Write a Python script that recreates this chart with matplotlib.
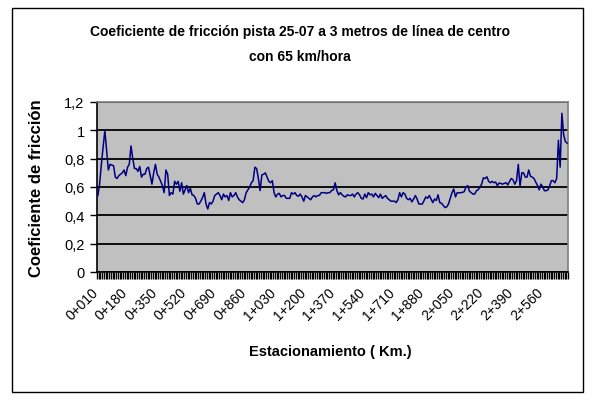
import matplotlib
matplotlib.use("Agg")
import matplotlib.pyplot as plt
from matplotlib.patches import Rectangle
from matplotlib.ticker import FixedLocator, FixedFormatter
from matplotlib.transforms import ScaledTranslation
import matplotlib.font_manager as fm

# ---------------- data ----------------
stations_m = list(range(10, 2710, 10))   # 0+010 ... 2+700, every 10 m
friction = [
    0.54, 0.62, 0.76, 0.88, 1.00, 0.86, 0.72, 0.76, 0.755, 0.75,
    0.67, 0.66, 0.68, 0.69, 0.70, 0.72, 0.68, 0.74, 0.76, 0.89,
    0.80, 0.73, 0.73, 0.71, 0.745, 0.67, 0.69, 0.69, 0.73, 0.74,
    0.68, 0.62, 0.70, 0.76, 0.69, 0.67, 0.64, 0.61, 0.56, 0.72,
    0.69, 0.54, 0.56, 0.55, 0.64, 0.62, 0.64, 0.57, 0.63, 0.55,
    0.58, 0.61, 0.56, 0.59, 0.545, 0.54, 0.52, 0.48, 0.48, 0.50,
    0.525, 0.56, 0.48, 0.445, 0.49, 0.48, 0.50, 0.54, 0.55, 0.56,
    0.54, 0.51, 0.55, 0.53, 0.54, 0.505, 0.56, 0.53, 0.54, 0.56,
    0.53, 0.51, 0.50, 0.49, 0.51, 0.56, 0.58, 0.60, 0.63, 0.645,
    0.74, 0.73, 0.66, 0.575, 0.685, 0.69, 0.70, 0.67, 0.64, 0.63,
    0.645, 0.56, 0.53, 0.55, 0.555, 0.53, 0.54, 0.54, 0.52, 0.52,
    0.52, 0.56, 0.55, 0.56, 0.54, 0.535, 0.55, 0.53, 0.50, 0.54,
    0.53, 0.52, 0.51, 0.53, 0.54, 0.53, 0.54, 0.54, 0.56, 0.56,
    0.56, 0.555, 0.56, 0.56, 0.575, 0.58, 0.63, 0.575, 0.545, 0.56,
    0.545, 0.535, 0.53, 0.545, 0.54, 0.54, 0.55, 0.53, 0.55, 0.56,
    0.545, 0.52, 0.515, 0.55, 0.525, 0.56, 0.545, 0.55, 0.53, 0.555,
    0.54, 0.525, 0.55, 0.52, 0.53, 0.54, 0.52, 0.51, 0.50, 0.50,
    0.50, 0.49, 0.51, 0.56, 0.53, 0.56, 0.55, 0.52, 0.51, 0.52,
    0.495, 0.515, 0.54, 0.515, 0.48, 0.48, 0.48, 0.505, 0.53, 0.52,
    0.54, 0.515, 0.49, 0.515, 0.505, 0.545, 0.49, 0.485, 0.47, 0.455,
    0.46, 0.48, 0.52, 0.56, 0.586, 0.53, 0.56, 0.558, 0.56, 0.562,
    0.567, 0.60, 0.61, 0.57, 0.56, 0.55, 0.55, 0.574, 0.58, 0.60,
    0.62, 0.665, 0.66, 0.672, 0.64, 0.63, 0.64, 0.63, 0.635, 0.61,
    0.628, 0.625, 0.62, 0.626, 0.63, 0.615, 0.64, 0.66, 0.65, 0.62,
    0.645, 0.76, 0.606, 0.70, 0.70, 0.67, 0.67, 0.72, 0.675, 0.67,
    0.66, 0.635, 0.612, 0.58, 0.62, 0.60, 0.574, 0.574, 0.58, 0.61,
    0.645, 0.645, 0.63, 0.66, 0.93, 0.74, 1.12, 0.97, 0.92, 0.91,
]
label_step = 17
y_ticks = [0, 0.2, 0.4, 0.6, 0.8, 1.0, 1.2]
y_tick_labels = ["0", "0,2", "0,4", "0,6", "0,8", "1", "1,2"]
title_lines = ["Coeficiente de fricción pista 25-07 a 3 metros de línea de centro",
               "con 65 km/hora"]
x_title = "Estacionamiento ( Km.)"
y_title = "Coeficiente de fricción"

categories = [f"{m // 1000}+{m % 1000:03d}" for m in stations_m]

# ---------------- fonts ----------------
names = {f.name for f in fm.fontManager.ttflist}
narrow = "Liberation Sans Narrow" if "Liberation Sans Narrow" in names else "Liberation Sans"
plt.rcParams["font.family"] = ["Liberation Sans", "DejaVu Sans"]

W, H = 592, 402
fig = plt.figure(figsize=(W / 100, H / 100), dpi=100)
fig.patch.set_facecolor("white")

# outer chart border
fig.add_artist(Rectangle((12 / W, 1 - 393 / H), (583 - 12) / W, (393 - 9) / H,
                         transform=fig.transFigure, fill=False, edgecolor="black", lw=1.0))

left, right, top, bottom = 97, 568, 103, 273
ax = fig.add_axes([left / W, 1 - bottom / H, (right - left) / W, (bottom - top) / H])
ax.set_facecolor("#c0c0c0")

n = len(friction)
xs = list(range(n))
ax.plot(xs, friction, color="#000080", lw=1.1, zorder=3)

ax.set_xlim(-0.5, n - 0.5)
ax.set_ylim(0, 1.2)

# gridlines
ax.set_yticks(y_ticks)
ax.set_yticklabels(y_tick_labels, fontsize=10.5)
ax.yaxis.grid(True, color="black", lw=1.3)
for gl in ax.yaxis.get_gridlines():
    gl.set_zorder(2)
ax.tick_params(axis="y", direction="out", length=5, width=1, pad=4, color="black")

# x ticks: dense marks between categories, labels every 17 categories
major_pos = list(range(0, n, label_step))
ax.xaxis.set_major_locator(FixedLocator(major_pos))
ax.xaxis.set_major_formatter(FixedFormatter([categories[i] for i in major_pos]))
ax.xaxis.set_minor_locator(FixedLocator([i - 0.5 for i in range(n + 1)]))
ax.tick_params(axis="x", which="major", length=0, pad=9)
ax.tick_params(axis="x", which="minor", direction="out", length=5, width=1.0, color="black")
offset = ScaledTranslation(-7 / 100, 0, fig.dpi_scale_trans)
for lab in ax.get_xticklabels():
    lab.set_rotation(45)
    lab.set_ha("right")
    lab.set_va("top")
    lab.set_rotation_mode("anchor")
    lab.set_fontsize(10)
    lab.set_transform(lab.get_transform() + offset)

for s in ["left", "bottom"]:
    ax.spines[s].set_color("black")
    ax.spines[s].set_linewidth(1.2)
for s in ["top", "right"]:
    ax.spines[s].set_color("#808080")
    ax.spines[s].set_linewidth(1.2)

fig.text(0.507, 1 - 32 / H, title_lines[0], ha="center", va="center",
         fontsize=10, fontweight="bold", family=[narrow, "DejaVu Sans"])
fig.text(0.507, 1 - 57 / H, title_lines[1], ha="center", va="center",
         fontsize=10, fontweight="bold", family=[narrow, "DejaVu Sans"])
fig.text(330 / W, 1 - 352 / H, x_title, ha="center", va="center",
         fontsize=10.5, fontweight="bold")
fig.text(37 / W, 1 - 188 / H, y_title, ha="center", va="center", rotation=90,
         fontsize=12, fontweight="bold")

fig.savefig("out.png", dpi=100)
